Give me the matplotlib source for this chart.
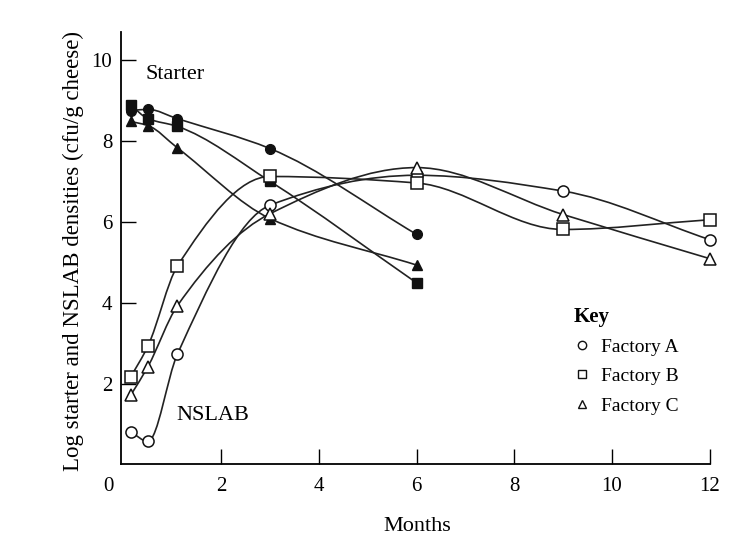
"""
Starter and NSLAB densities in cheese from three factories over 12 months.
"""
import matplotlib.pyplot as plt
import numpy as np
from matplotlib.lines import Line2D
from matplotlib.patches import PathPatch
from matplotlib.path import Path

plt.rcParams['font.family'] = ['Liberation Serif', 'DejaVu Serif']

months_starter = [0.15, 0.5, 1.1, 3, 6]
months_nslab = [0.15, 0.5, 1.1, 3, 6, 9, 12]

starter_a = [8.75, 8.78, 8.55, 7.81, 5.69]
starter_b = [8.88, 8.55, 8.36, 7.00, 4.49]
starter_c = [8.48, 8.38, 7.83, 6.08, 4.93]

nslab_a = [0.80, 0.57, 2.72, 6.41, 7.15, 6.76, 5.56]
nslab_b = [2.17, 2.93, 4.90, 7.12, 6.96, 5.81, 6.05]
nslab_c = [1.72, 2.42, 3.92, 6.20, 7.34, 6.18, 5.09]

factories = ['Factory A', 'Factory B', 'Factory C']
markers = ['o', 's', '^']


def smooth_curve(x, y):
    # monotone cubic tangents, drawn as bezier segments through the points
    x = np.asarray(x, float)
    y = np.asarray(y, float)
    h = np.diff(x)
    d = np.diff(y) / h
    m = np.zeros_like(y)
    m[0], m[-1] = d[0], d[-1]
    for k in range(1, len(x) - 1):
        if d[k - 1] * d[k] > 0:
            w1 = 2 * h[k] + h[k - 1]
            w2 = h[k] + 2 * h[k - 1]
            m[k] = (w1 + w2) / (w1 / d[k - 1] + w2 / d[k])
    verts = [(x[0], y[0])]
    codes = [Path.MOVETO]
    for i in range(len(x) - 1):
        verts += [(x[i] + h[i] / 3, y[i] + m[i] * h[i] / 3),
                  (x[i + 1] - h[i] / 3, y[i + 1] - m[i + 1] * h[i] / 3),
                  (x[i + 1], y[i + 1])]
        codes += [Path.CURVE4] * 3
    return Path(verts, codes)


fig = plt.figure(figsize=(7.54, 5.47), dpi=100)
ax = fig.add_axes([0.160, 0.151, 0.781, 0.791])

for ys, mk in zip([starter_a, starter_b, starter_c], markers):
    ax.add_patch(PathPatch(smooth_curve(months_starter, ys), fill=False,
                           edgecolor='#222222', linewidth=1.2, zorder=2))
    ax.plot(months_starter, ys, linestyle='none', marker=mk, markersize=7,
            color='#111111', zorder=3, clip_on=False)

for ys, mk in zip([nslab_a, nslab_b, nslab_c], markers):
    ax.add_patch(PathPatch(smooth_curve(months_nslab, ys), fill=False,
                           edgecolor='#222222', linewidth=1.2, zorder=2,
                           clip_on=False))
    ax.plot(months_nslab, ys, linestyle='none', marker=mk, markersize=8,
            markerfacecolor='white', markeredgecolor='#111111',
            markeredgewidth=1.1, zorder=3, clip_on=False)

ax.set_xlim(-0.06, 12)
ax.set_ylim(0, 10.7)
ax.spines[['top', 'right']].set_visible(False)
ax.spines[['left', 'bottom']].set_linewidth(1.3)
ax.set_xticks([2, 4, 6, 8, 10, 12])
ax.set_yticks([2, 4, 6, 8, 10])
ax.tick_params(direction='in', length=11, width=1, labelsize=15)
ax.tick_params(axis='x', pad=9)
ax.tick_params(axis='y', pad=6)
ax.text(-0.32, -0.55, '0', fontsize=15, ha='center', va='center')

ax.set_xlabel('Months', fontsize=16)
ax.xaxis.set_label_coords(0.504, -0.122)
ax.set_ylabel('Log starter and NSLAB densities (cfu/g cheese)', fontsize=16.5)
ax.yaxis.set_label_coords(-0.063, 0.494)

ax.text(0.45, 9.65, 'Starter', fontsize=16, va='center')
ax.text(1.08, 1.2, 'NSLAB', fontsize=16, va='center')

handles = [Line2D([], [], linestyle='none', marker=mk, markersize=6,
                  markerfacecolor='white', markeredgecolor='#111111')
           for mk in markers]
leg = ax.legend(handles, factories, title='Key', loc='upper left',
                bbox_to_anchor=(0.74, 0.405), frameon=False, fontsize=14,
                handlelength=0.8, handletextpad=0.6, labelspacing=0.6,
                alignment='left',
                title_fontproperties={'weight': 'bold', 'size': 15})

fig.savefig('out.png', dpi=100, facecolor='white')
